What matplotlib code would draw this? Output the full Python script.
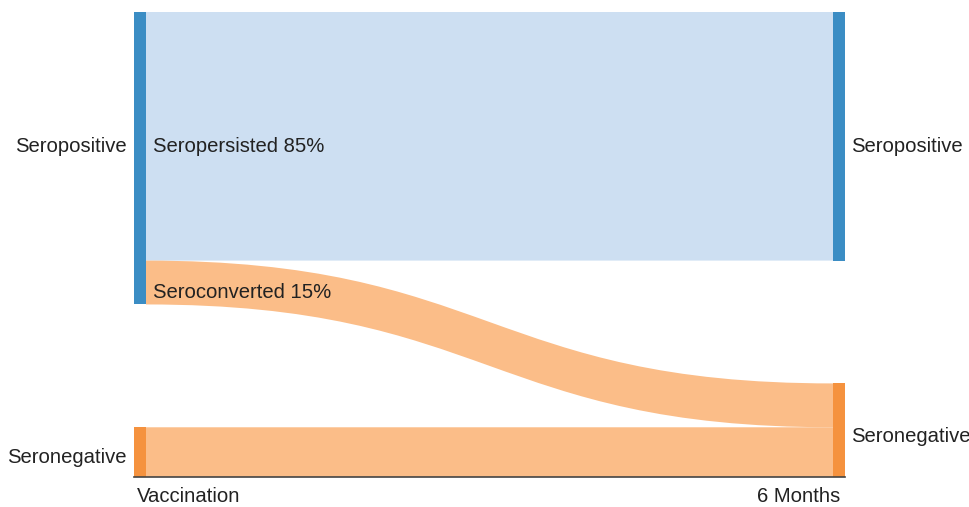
import matplotlib.pyplot as plt
from matplotlib.path import Path
from matplotlib.patches import PathPatch, Rectangle

plt.rcParams['font.family'] = ['Liberation Sans', 'DejaVu Sans']

# 데이터 (비율, %)
stages = ['Vaccination', '6 Months']
persisted = 85      # seropositive -> seropositive
converted = 15      # seropositive -> seronegative
negative = 17       # seronegative -> seronegative
gap = 42            # 노드 사이 간격

node_blue = '#3b8dc4'
node_orange = '#f5923e'
flow_blue = '#cddff2'
flow_orange = '#fbbd88'
txt = '#222222'

fig = plt.figure(figsize=(9.69, 5.07), dpi=100)
ax = fig.add_axes([134/969, 30/507, (845-134)/969, 465/507])
nw = 12/711   # 노드 폭 (x 단위)

# 왼쪽 노드 y 범위
l_neg = (0, negative)
l_pos = (negative + gap, negative + gap + converted + persisted)
# 오른쪽 노드 y 범위
r_neg = (0, negative + converted)
r_pos = (l_pos[1] - persisted, l_pos[1])
top = l_pos[1]

def band(x0, x1, y0a, y0b, y1a, y1b, color):
    xm = (x0 + x1) / 2
    verts = [(x0, y0b), (xm, y0b), (xm, y1b), (x1, y1b),
             (x1, y1a), (xm, y1a), (xm, y0a), (x0, y0a), (x0, y0b)]
    codes = [Path.MOVETO, Path.CURVE4, Path.CURVE4, Path.CURVE4,
             Path.LINETO, Path.CURVE4, Path.CURVE4, Path.CURVE4, Path.CLOSEPOLY]
    ax.add_patch(PathPatch(Path(verts, codes), fc=color, ec='none', zorder=1))

# 흐름
band(nw, 1 - nw, l_pos[1] - persisted, l_pos[1], r_pos[0], r_pos[1], flow_blue)
band(nw, 1 - nw, l_pos[0], l_pos[0] + converted, r_neg[1] - converted, r_neg[1], flow_orange)
band(nw, 1 - nw, l_neg[0], l_neg[1], r_neg[0], r_neg[0] + negative, flow_orange)

# 노드
for (y0, y1), c in [(l_pos, node_blue), (l_neg, node_orange)]:
    ax.add_patch(Rectangle((0, y0), nw, y1 - y0, fc=c, ec='none', zorder=2))
for (y0, y1), c in [(r_pos, node_blue), (r_neg, node_orange)]:
    ax.add_patch(Rectangle((1 - nw, y0), nw, y1 - y0, fc=c, ec='none', zorder=2))

ax.set_xlim(0, 1)
ax.set_ylim(0, top)
ax.axis('off')
ax.plot([0, 1], [0, 0], color='#444444', lw=1.2, zorder=3, clip_on=False)

fs = 14.6
ax.text(-0.01, 113, 'Seropositive', ha='right', va='center', fontsize=fs, color=txt)
ax.text(-0.01, 6.5, 'Seronegative', ha='right', va='center', fontsize=fs, color=txt)
ax.text(1.008, 113, 'Seropositive', ha='left', va='center', fontsize=fs, color=txt)
ax.text(1.008, 14, 'Seronegative', ha='left', va='center', fontsize=fs, color=txt)
ax.text(nw + 0.01, 113, 'Seropersisted %d%%' % persisted, ha='left', va='center', fontsize=fs, color=txt)
ax.text(nw + 0.01, 63, 'Seroconverted %d%%' % converted, ha='left', va='center', fontsize=fs, color=txt)
ax.text(0.004, -6.8, stages[0], ha='left', va='center', fontsize=fs, color=txt)
ax.text(0.993, -6.8, stages[1], ha='right', va='center', fontsize=fs, color=txt)

fig.savefig('out.png', dpi=100)
